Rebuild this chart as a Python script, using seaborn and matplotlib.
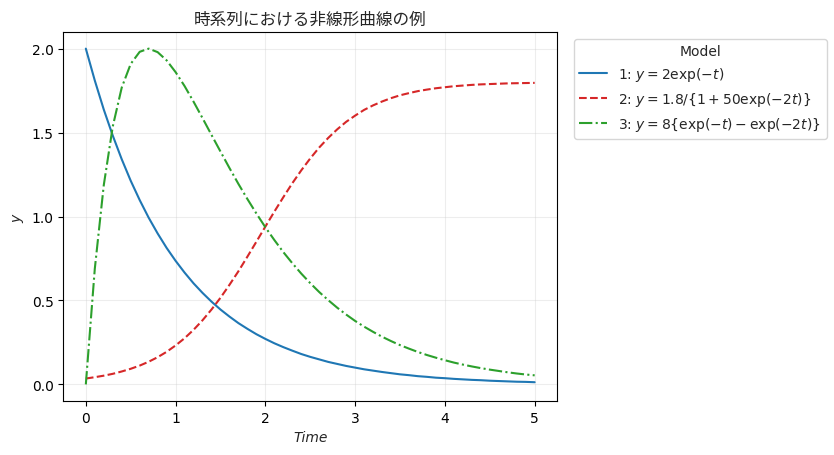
import pandas as pd
import matplotlib
matplotlib.use("Agg")
import matplotlib.pyplot as plt
import seaborn as sns

# time points (step 0.1)
time = [0.0, 0.1, 0.2, 0.3, 0.4, 0.5, 0.6, 0.7, 0.8, 0.9,
        1.0, 1.1, 1.2, 1.3, 1.4, 1.5, 1.6, 1.7, 1.8, 1.9,
        2.0, 2.1, 2.2, 2.3, 2.4, 2.5, 2.6, 2.7, 2.8, 2.9,
        3.0, 3.1, 3.2, 3.3, 3.4, 3.5, 3.6, 3.7, 3.8, 3.9,
        4.0, 4.1, 4.2, 4.3, 4.4, 4.5, 4.6, 4.7, 4.8, 4.9, 5.0]

# model 1: exponential decay
y_decay = [2.000, 1.810, 1.637, 1.482, 1.341, 1.213, 1.098, 0.993, 0.899, 0.813,
           0.736, 0.666, 0.602, 0.545, 0.493, 0.446, 0.404, 0.365, 0.331, 0.299,
           0.271, 0.245, 0.222, 0.201, 0.181, 0.164, 0.149, 0.134, 0.122, 0.110,
           0.100, 0.090, 0.082, 0.074, 0.067, 0.060, 0.055, 0.049, 0.045, 0.040,
           0.037, 0.033, 0.030, 0.027, 0.025, 0.022, 0.020, 0.018, 0.016, 0.015, 0.013]

# model 2: logistic growth
y_logistic = [0.035, 0.043, 0.052, 0.063, 0.077, 0.093, 0.112, 0.135, 0.162, 0.194,
              0.232, 0.275, 0.325, 0.382, 0.446, 0.516, 0.593, 0.674, 0.761, 0.850,
              0.940, 1.029, 1.115, 1.198, 1.275, 1.346, 1.411, 1.468, 1.519, 1.564,
              1.601, 1.635, 1.662, 1.685, 1.705, 1.722, 1.735, 1.747, 1.756, 1.764,
              1.770, 1.776, 1.780, 1.784, 1.787, 1.789, 1.791, 1.793, 1.794, 1.795, 1.796]

# model 3: rise and decay
y_bateman = [0.000, 0.689, 1.187, 1.536, 1.768, 1.909, 1.981, 2.000, 1.979, 1.930,
             1.860, 1.777, 1.684, 1.586, 1.486, 1.387, 1.289, 1.194, 1.104, 1.018,
             0.936, 0.860, 0.788, 0.722, 0.660, 0.603, 0.550, 0.502, 0.457, 0.416,
             0.378, 0.344, 0.313, 0.284, 0.258, 0.234, 0.213, 0.193, 0.175, 0.159,
             0.144, 0.130, 0.118, 0.107, 0.097, 0.088, 0.080, 0.072, 0.065, 0.059, 0.054]

labels = [r"1: $y = 2\exp(-t)$",
          r"2: $y = 1.8/\{1 + 50\exp(-2t)\}$",
          r"3: $y = 8\{\exp(-t) - \exp(-2t)\}$"]

df = pd.concat([
    pd.DataFrame({"Time": time, "y": y_decay, "Model": labels[0]}),
    pd.DataFrame({"Time": time, "y": y_logistic, "Model": labels[1]}),
    pd.DataFrame({"Time": time, "y": y_bateman, "Model": labels[2]}),
])

sns.set_style("ticks")
plt.rcParams["font.family"] = ["DejaVu Sans", "Noto Sans CJK JP"]

fig = plt.figure(figsize=(8.34, 4.56), dpi=100)
ax = fig.add_axes([0.076, 0.118, 0.592, 0.81])

palette = {labels[0]: "#1f77b4", labels[1]: "#d62728", labels[2]: "#2ca02c"}
dashes = {labels[0]: "", labels[1]: (3.7, 1.6), labels[2]: (6.4, 1.6, 1, 1.6)}
sns.lineplot(data=df, x="Time", y="y", hue="Model", style="Model",
             palette=palette, dashes=dashes, linewidth=1.5, ax=ax)

ax.grid(True, color="#cccccc", linewidth=0.8, alpha=0.35)
ax.set_xticks([0, 1, 2, 3, 4, 5])
ax.set_yticks([0.0, 0.5, 1.0, 1.5, 2.0])
ax.set_xlabel("Time", fontstyle="italic")
ax.set_ylabel("$y$")
ax.set_title("時系列における非線形曲線の例", family=["Noto Sans CJK JP", "DejaVu Sans"])
for s in ax.spines.values():
    s.set_color("black")
    s.set_linewidth(0.8)
ax.tick_params(colors="black", width=0.8, length=3.5)

ax.legend(title="Model", loc="upper left", bbox_to_anchor=(1.02, 1.0))

fig.savefig("out.png", dpi=100)
